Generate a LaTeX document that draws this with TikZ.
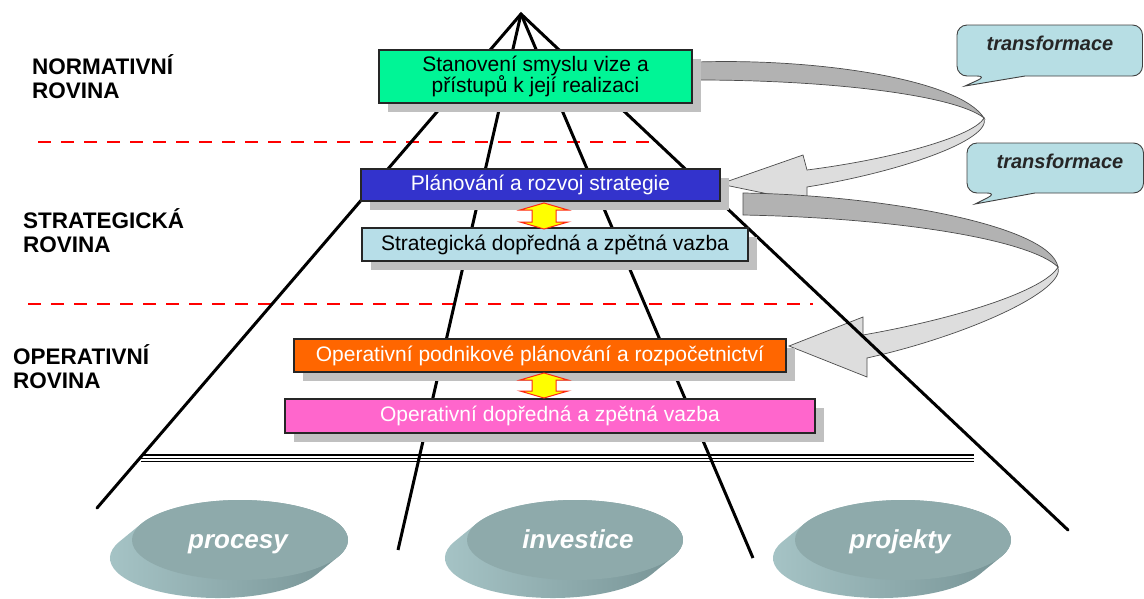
\documentclass[tikz,border=0pt]{standalone}
\usepackage{fontspec}
\setmainfont{Liberation Sans}
\usetikzlibrary{shadows}
\definecolor{boxgreen}{RGB}{0,245,150}
\definecolor{boxblue}{RGB}{51,51,204}
\definecolor{boxcyan}{RGB}{183,222,232}
\definecolor{boxorange}{RGB}{255,102,0}
\definecolor{boxpink}{RGB}{255,102,204}
\definecolor{shadowgray}{RGB}{192,192,192}
\definecolor{ribbondark}{RGB}{178,178,178}
\definecolor{ribbonlight}{RGB}{221,221,221}
\definecolor{disktop}{RGB}{142,170,171}
\definecolor{diskleft}{RGB}{168,198,200}
\definecolor{diskright}{RGB}{116,144,146}
\definecolor{calloutfill}{RGB}{183,222,228}
\definecolor{dashred}{RGB}{255,0,0}
\definecolor{arrowyellow}{RGB}{255,255,0}
\definecolor{arrowred}{RGB}{255,40,20}
\newcommand{\drawdisk}[2]{%
  \shade[left color=diskleft, right color=diskright]
    (#1-98.4,#2-16.5) arc[start angle=204.36,end angle=384.36,x radius=108,y radius=40]
    -- ++(-22,18) arc[start angle=24.36,end angle=204.36,x radius=108,y radius=40] -- cycle;
  \fill[disktop] (#1,#2) ellipse[x radius=108,y radius=40];}
\begin{document}
\begin{tikzpicture}[x=1pt,y=-1pt,
  levelbox/.style={draw=black!85, line width=1.1pt, inner sep=0pt,
    drop shadow={shadow xshift=9pt, shadow yshift=-9pt, fill=shadowgray, opacity=1},
    font=\fontsize{21}{21.5}\selectfont, align=center},
  levellabel/.style={anchor=base west, inner sep=0pt, align=left,
    font=\fontsize{22.5}{23.5}\selectfont\bfseries},
  ribbonA/.style={fill=ribbondark, draw=black!70, line width=0.7pt},
  ribbonB/.style={fill=ribbonlight, draw=black!70, line width=0.7pt},
  callout/.style={fill=calloutfill, draw=black!75, line width=0.9pt},
  callouttext/.style={font=\fontsize{20}{21}\selectfont\bfseries\itshape, text=black!85},
  fanline/.style={line width=3pt, black},
  divider/.style={dashred, line width=2pt, dash pattern=on 13pt off 10pt},
  ioarrow/.style={fill=arrowyellow, draw=arrowred, line width=1pt, line join=miter},
  disklabel/.style={anchor=base, font=\fontsize{26}{28}\selectfont\bfseries\itshape, text=white}]
\useasboundingbox (0,0) rectangle (1144,598);

% transformation ribbons
\draw[ribbonA] (697,62) .. controls (820,58) and (960,80) .. (984,118)
  .. controls (955,95) and (830,80) .. (697,80) -- cycle;
\draw[ribbonB] (984,118) .. controls (992,140) and (900,172) .. (807,187)
  -- (807,202) -- (720,184) -- (803,155) -- (807,170)
  .. controls (900,158) and (975,135) .. (984,118) -- cycle;
\draw[ribbonA] (743,193) .. controls (880,195) and (1050,225) .. (1058,267)
  .. controls (1030,240) and (900,218) .. (743,215) -- cycle;
\draw[ribbonB] (1058,267) .. controls (1066,290) and (970,335) .. (867,358)
  -- (867,377) -- (789,346) -- (863,317) -- (863,335)
  .. controls (960,318) and (1045,290) .. (1058,267) -- cycle;

% callouts
\draw[callout] (1080,25) [rounded corners=10pt] -- (957,25) -- (957,76) -- (987,76)
  [sharp corners] -- (965,86) -- (1025,76) [rounded corners=10pt] -- (1142.5,76) -- (1142.5,25) -- cycle;
\node[callouttext] (t1) at (1050,43) {transformace};
\draw[callout] (1080,143) [rounded corners=10pt] -- (967,143) -- (967,193) -- (997,193)
  [sharp corners] -- (975,204) -- (1035,193) [rounded corners=10pt] -- (1143.5,193) -- (1143.5,143) -- cycle;
\node[callouttext] (t2) at (1060,161) {transformace};

% dashed dividers
\coordinate (d1a) at (38,142); \coordinate (d1b) at (657,142);
\coordinate (d2a) at (28,304); \coordinate (d2b) at (813,304);
\draw[divider] (d1a) -- (d1b);
\draw[divider] (d2a) -- (d2b);

% fan
\coordinate (apex) at (521,14);
\coordinate (f1) at (97,508);
\coordinate (f2) at (398,550);
\coordinate (f3) at (753,558);
\coordinate (f4) at (1068,530);
\draw[fanline, line cap=round] (f1) -- (apex) -- (f4);
\draw[fanline] (apex) -- (f2);
\draw[fanline] (apex) -- (f3);

% base line
\coordinate (b1) at (141,455); \coordinate (b2) at (974,455);
\foreach \dy in {0,3.4,6.8}
  \draw[line width=1.3pt] ([yshift=-\dy pt]b1) -- ([yshift=-\dy pt]b2);

% level boxes
\node[levelbox, fill=boxgreen, minimum width=313, minimum height=53] (vision) at (535.5,76.5)
  {Stanovení smyslu vize a\\přístupů k její realizaci};
\node[levelbox, fill=boxblue, text=white, minimum width=359, minimum height=32] (plan) at (540.5,185)
  {Plánování a rozvoj strategie};
\node[levelbox, fill=boxcyan, minimum width=386, minimum height=33] (sfb) at (555,244.5)
  {Strategická dopředná a zpětná vazba};
\node[levelbox, fill=boxorange, text=white, minimum width=492, minimum height=33] (oplan) at (540,355.5)
  {Operativní podnikové plánování a rozpočetnictví};
\node[levelbox, fill=boxpink, text=white, minimum width=530, minimum height=34] (ofb) at (550,416)
  {Operativní dopředná a zpětná vazba};

% double arrows
\draw[ioarrow] (544,203) -- (568,210) -- (556,210) -- (556,222) -- (568,222) -- (544,229)
  -- (520,222) -- (532,222) -- (532,210) -- (520,210) -- cycle;
\draw[ioarrow] (544,373) -- (568,380) -- (556,380) -- (556,391) -- (568,391) -- (544,398)
  -- (520,391) -- (532,391) -- (532,380) -- (520,380) -- cycle;

% level labels (anchor at baseline of last line)
\node[levellabel] (lnorm) at (32,98) {NORMATIVNÍ\\ROVINA};
\node[levellabel] (lstrat) at (23,252) {STRATEGICKÁ\\ROVINA};
\node[levellabel] (loper) at (13,388) {OPERATIVNÍ\\ROVINA};

% disks
\drawdisk{240}{540}
\drawdisk{575}{540}
\drawdisk{903}{540}
\node[disklabel] (procesy) at (238,548) {procesy};
\node[disklabel] (investice) at (578,548) {investice};
\node[disklabel] (projekty) at (900,548) {projekty};
\end{tikzpicture}
\end{document}
